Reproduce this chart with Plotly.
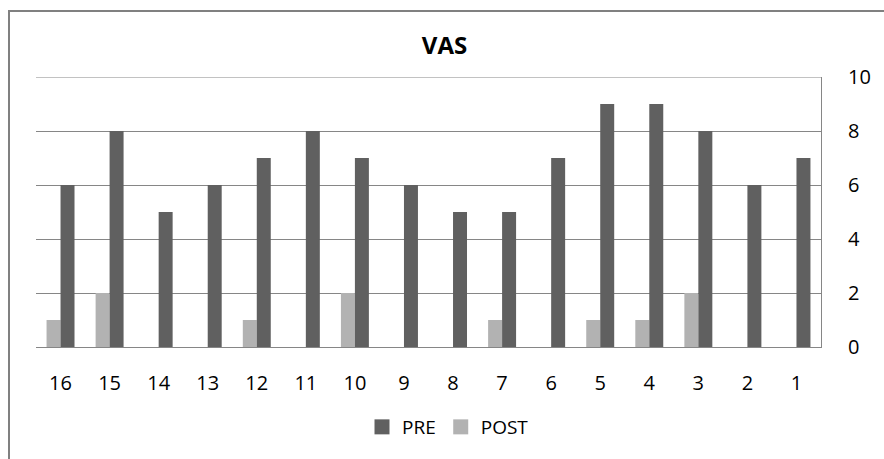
import plotly.graph_objects as go

categories = ["16", "15", "14", "13", "12", "11", "10", "9", "8", "7", "6", "5", "4", "3", "2", "1"]
pre_values = [6, 8, 5, 6, 7, 8, 7, 6, 5, 5, 7, 9, 9, 8, 6, 7]
post_values = [1, 2, 0, 0, 1, 0, 2, 0, 0, 1, 0, 1, 1, 2, 0, 0]
y_ticks = [0, 2, 4, 6, 8, 10]

PRE_COLOR = "#606060"
POST_COLOR = "#b2b2b2"
GRID = "#868686"

W, H = 884, 459
L, R, T, B = 36, 884 - 821, 77, 459 - 347
pw, ph = W - L - R, H - T - B

fig = go.Figure()
fig.add_trace(go.Bar(x=categories, y=post_values, name="POST", marker_color=POST_COLOR,
                     marker_line_width=0, showlegend=False))
fig.add_trace(go.Bar(x=categories, y=pre_values, name="PRE", marker_color=PRE_COLOR,
                     marker_line_width=0, showlegend=False))
# legend entries with square symbols
fig.add_trace(go.Scatter(x=[None], y=[None], mode="markers", name="PRE",
                         marker=dict(symbol="square", size=15, color=PRE_COLOR)))
fig.add_trace(go.Scatter(x=[None], y=[None], mode="markers", name="POST",
                         marker=dict(symbol="square", size=15, color=POST_COLOR)))

font = "Open Sans"
fig.update_layout(
    width=W, height=H,
    margin=dict(l=L, r=R, t=T, b=B, pad=0),
    paper_bgcolor="white", plot_bgcolor="white",
    barmode="group", bargap=0.43, bargroupgap=0,
    title=dict(text="<b>VAS</b>", x=444.5 / W, xref="container", xanchor="center",
               y=1 - 46 / H, yref="container", yanchor="middle",
               font=dict(family=font, size=24, color="black")),
    font=dict(family=font, size=17, color="black"),
    showlegend=True,
    legend=dict(orientation="h", x=(448 - L) / pw, xanchor="center",
                y=(347 - 427) / ph, yanchor="middle",
                font=dict(family=font, size=19, color="black"),
                itemwidth=30, traceorder="normal", tracegroupgap=0),
    xaxis=dict(type="category", showgrid=False, showline=True, linecolor=GRID,
               linewidth=1, ticks="outside", ticklen=18, tickcolor="rgba(0,0,0,0)",
               tickfont=dict(size=20), zeroline=False),
    yaxis=dict(side="right", range=[y_ticks[0], y_ticks[-1]], tickvals=y_ticks, showgrid=True,
               gridcolor=GRID, gridwidth=1, showline=True, linecolor=GRID,
               linewidth=1, ticks="", ticklabelstandoff=22,
               tickfont=dict(size=20), zeroline=False),
    shapes=[
        dict(type="rect", xref="paper", yref="paper",
             x0=(9 - L) / pw, x1=(W + 20 - L) / pw,
             y0=-(H + 20 - T - ph) / ph, y1=1 + (T - 11) / ph,
             line=dict(color="#808080", width=2), layer="below"),
        # top gridline (hidden by plotly at the range edge)
        dict(type="line", xref="paper", yref="y", x0=0, x1=1,
             y0=y_ticks[-1], y1=y_ticks[-1], line=dict(color=GRID, width=1), layer="below"),
    ],
)

fig.write_html("out.html", config={"displayModeBar": False},
               post_script="document.body.style.margin='0';document.body.style.overflow='hidden';")
